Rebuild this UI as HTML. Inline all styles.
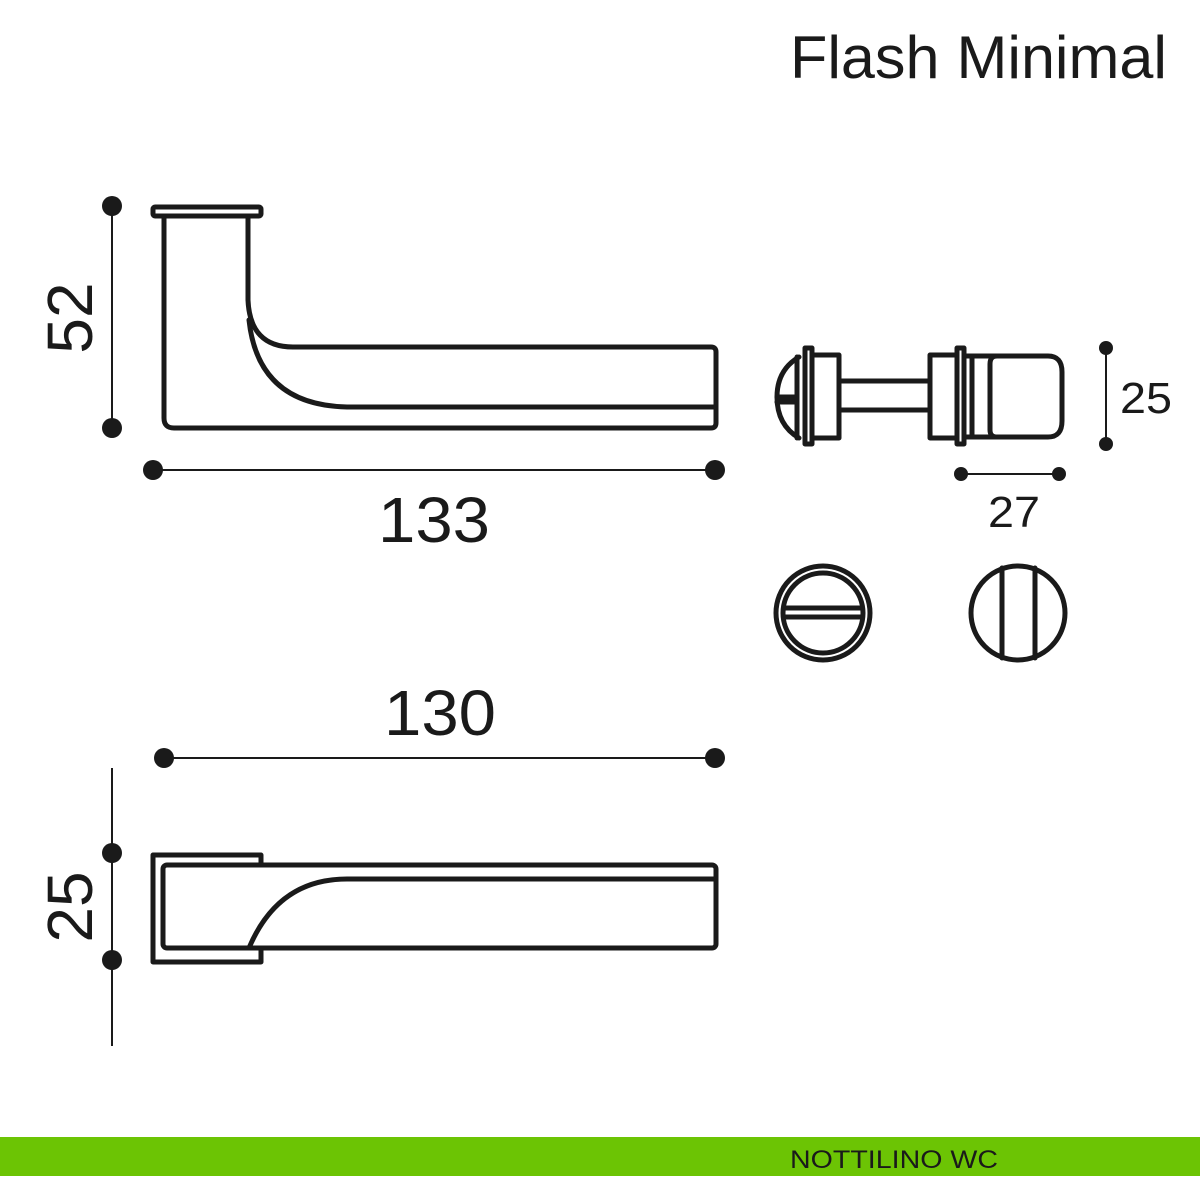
<!DOCTYPE html>
<html><head><meta charset="utf-8"><style>
html,body{margin:0;padding:0;background:#fff;width:1200px;height:1200px;overflow:hidden}
svg{display:block}
text{font-family:"Liberation Sans",sans-serif;fill:#1a1a1a}
</style></head><body>
<svg width="1200" height="1200" viewBox="0 0 1200 1200" xmlns="http://www.w3.org/2000/svg">
<text x="790" y="78" font-size="60" textLength="377" lengthAdjust="spacingAndGlyphs">Flash Minimal</text>
<g fill="none" stroke="#1a1a1a" stroke-width="5" stroke-linejoin="round" stroke-linecap="round">
 <rect x="153" y="207" width="108" height="9" rx="2"/>
 <path d="M164 216 V418 Q164 428 174 428 H711 Q716 428 716 423 V352 Q716 347 711 347 H293 Q250 347 248 300 V216"/>
 <path d="M249 320 Q258 405 347 407 H716"/>
 <path d="M261 865 V855 H153 V962 H261 V948"/>
 <rect x="163" y="865" width="553" height="83" rx="4"/>
 <path d="M716 879 H347 Q278 879 249 948"/>
 <path d="M799 357 Q777 370 777 397 Q777 425 799 438"/>
 <path d="M777 397 H797 M777 402 H797"/>
 <line x1="797" y1="357" x2="797" y2="438"/>
 <rect x="805" y="348" width="7" height="96"/>
 <rect x="812" y="355" width="27" height="83"/>
 <path d="M839 381 H930 M839 410 H930"/>
 <rect x="930" y="355" width="27" height="83"/>
 <rect x="957" y="348" width="7" height="96"/>
 <path d="M964 356 H1048 Q1062 356 1062 372 V421 Q1062 437 1048 437 H964"/>
 <line x1="972" y1="357" x2="972" y2="436"/>
 <path d="M997 356 Q990 356 990 364 V430 Q990 437 997 437"/>
 <circle cx="823" cy="613" r="47"/>
 <circle cx="823" cy="613" r="40"/>
 <path d="M785 608 H861 M785 617 H861"/>
 <circle cx="1018" cy="613" r="47"/>
 <path d="M1002 568 V658 M1035 568 V658"/>
</g>
<g stroke="#1a1a1a" stroke-width="2" fill="#1a1a1a">
 <line x1="112" y1="206" x2="112" y2="428"/>
 <circle cx="112" cy="206" r="10" stroke="none"/><circle cx="112" cy="428" r="10" stroke="none"/>
 <line x1="153" y1="470" x2="715" y2="470"/>
 <circle cx="153" cy="470" r="10" stroke="none"/><circle cx="715" cy="470" r="10" stroke="none"/>
 <line x1="164" y1="758" x2="715" y2="758"/>
 <circle cx="164" cy="758" r="10" stroke="none"/><circle cx="715" cy="758" r="10" stroke="none"/>
 <line x1="112" y1="768" x2="112" y2="1046"/>
 <circle cx="112" cy="853" r="10" stroke="none"/><circle cx="112" cy="960" r="10" stroke="none"/>
 <line x1="1106" y1="348" x2="1106" y2="444"/>
 <circle cx="1106" cy="348" r="7" stroke="none"/><circle cx="1106" cy="444" r="7" stroke="none"/>
 <line x1="961" y1="474" x2="1059" y2="474"/>
 <circle cx="961" cy="474" r="7" stroke="none"/><circle cx="1059" cy="474" r="7" stroke="none"/>
</g>
<text x="378" y="542" font-size="64" textLength="112" lengthAdjust="spacingAndGlyphs">133</text>
<text x="384" y="735" font-size="64" textLength="112" lengthAdjust="spacingAndGlyphs">130</text>
<text transform="translate(92,318) rotate(-90)" font-size="64" text-anchor="middle">52</text>
<text transform="translate(92,907) rotate(-90)" font-size="64" text-anchor="middle">25</text>
<text x="1120" y="413" font-size="44" textLength="52" lengthAdjust="spacingAndGlyphs">25</text>
<text x="988" y="527" font-size="44" textLength="52" lengthAdjust="spacingAndGlyphs">27</text>
<rect x="0" y="1137" width="1200" height="39" fill="#6cc404"/>
<text x="790" y="1168" font-size="25" textLength="208" lengthAdjust="spacingAndGlyphs" fill="#111">NOTTILINO WC</text>
</svg>
</body></html>
